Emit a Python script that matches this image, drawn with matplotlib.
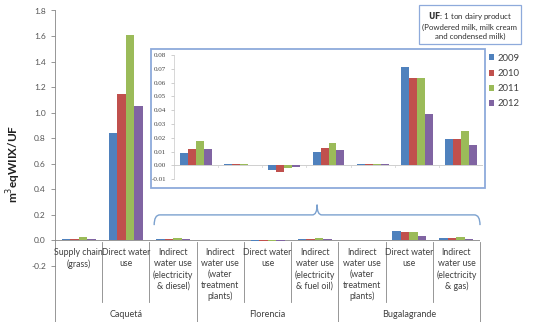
import numpy as np
import matplotlib
matplotlib.use("Agg")
import matplotlib.pyplot as plt
import matplotlib.transforms as mtransforms
from matplotlib.patches import Rectangle, PathPatch
from matplotlib.path import Path

# data
categories = ["Supply chain\n(grass)", "Direct water\nuse",
              "Indirect\nwater use\n(electricity\n& diesel)",
              "Indirect\nwater use\n(water\ntreatment\nplants)",
              "Direct water\nuse",
              "Indirect\nwater use\n(electricity\n& fuel oil)",
              "Indirect\nwater use\n(water\ntreatment\nplants)",
              "Direct water\nuse",
              "Indirect\nwater use\n(electricity\n& gas)"]
groups = ["Caquetá", "Florencia", "Bugalagrande"]
years = ["2009", "2010", "2011", "2012"]
v2009 = [0.012, 0.845, 0.009, 0.001, -0.0035, 0.0095, 0.001, 0.071, 0.019]
v2010 = [0.014, 1.150, 0.012, 0.001, -0.0050, 0.0130, 0.001, 0.063, 0.019]
v2011 = [0.024, 1.610, 0.0175, 0.001, -0.0020, 0.0165, 0.001, 0.0635, 0.025]
v2012 = [0.013, 1.055, 0.012, 0.0005, -0.0010, 0.0110, 0.001, 0.0375, 0.015]
series = [v2009, v2010, v2011, v2012]
colors = ["#4F81BD", "#C0504D", "#9BBB59", "#8064A2"]
inset_from = 2  # inset zooms on categories 2..8

plt.rcParams['font.family'] = ['Lato', 'DejaVu Sans']
fig = plt.figure(figsize=(5.35, 3.22), dpi=100)
W, H = 535, 322

def px(x0, y0, x1, y1):
    # figure-pixel box -> figure fraction rect
    return [x0 / W, 1 - y1 / H, (x1 - x0) / W, (y1 - y0) / H]

axis_col = "#868686"
txt_col = "#404040"
bw = 0.18
n = len(categories)
x = np.arange(n)

# ---- main chart
ax = fig.add_axes(px(55, 10.5, 480, 266))
for k, vals in enumerate(series):
    ax.bar(x + (k - 1.5) * bw, vals, bw, color=colors[k], zorder=2)
ax.set_xlim(-0.5, n - 0.5)
ax.set_ylim(-0.2, 1.8)
ax.set_yticks(np.arange(-0.2, 1.81, 0.2))
ax.set_yticklabels([f"{t:.1f}" for t in np.arange(-0.2, 1.81, 0.2)])
ax.tick_params(axis='y', labelsize=6, colors=axis_col, labelcolor="#555555", length=3, width=0.6)
ax.set_xticks([])
for s in ["top", "right", "bottom"]:
    ax.spines[s].set_visible(False)
ax.spines["left"].set_color(axis_col)
ax.spines["left"].set_linewidth(0.6)
ax.spines["left"].set_bounds(-0.2, 1.8)
ax.axhline(0, color=axis_col, lw=0.6, zorder=1)

tr = mtransforms.blended_transform_factory(ax.transData, ax.transAxes)
# extend the left spine down to the group labels
ax.plot([-0.5, -0.5], [0, -0.22], color=axis_col, lw=0.6, transform=tr, clip_on=False)
for i in range(1, n + 1):
    xb = i - 0.5
    y_end = -0.22 if i % 3 == 0 else -0.14
    ax.plot([xb, xb], [0.0941, y_end], color=axis_col, lw=0.6, transform=tr, clip_on=False)
for i, lab in enumerate(categories):
    ax.text(i, -0.062, lab, ha='center', va='top', fontsize=6.3, color=txt_col,
            linespacing=1.25, clip_on=False)
for g, name in enumerate(groups):
    ax.text(3 * g + 1, -0.19, name, ha='center', va='center', fontsize=6.5,
            color=txt_col, transform=tr, clip_on=False)

fig.text(0.026, 0.49, "m$^3$eqWIIX/UF", rotation=90, ha='center', va='center',
         fontsize=8.5, fontweight='bold', color="#202020")

# ---- brace under the inset
bc = "#7BA1CF"
xa, xbnd, xm = 1.6, 8.5, 5.05
yh, ye, yt = 0.2, 0.16, 0.24
verts = [(xa, ye), (xa, yh), (xa + 0.12, yh),
         (xm - 0.1, yh), (xm, yh), (xm, yt), (xm, yh), (xm + 0.1, yh),
         (xbnd - 0.12, yh), (xbnd, yh), (xbnd, ye)]
codes = [Path.MOVETO, Path.CURVE3, Path.CURVE3,
         Path.LINETO, Path.CURVE3, Path.CURVE3, Path.CURVE3, Path.CURVE3,
         Path.LINETO, Path.CURVE3, Path.CURVE3]
ax.add_patch(PathPatch(Path(verts, codes), transform=tr, fill=False,
                       edgecolor=bc, lw=1.0, clip_on=False))

# ---- inset frame and inset chart
fig.patches.append(Rectangle((151 / W, 1 - 188 / H), (485 - 151) / W, (188 - 49) / H,
                             transform=fig.transFigure, facecolor='white',
                             edgecolor="#8EAADB", lw=1.3, zorder=3))
axi = fig.add_axes(px(174, 55, 483, 179.3))
axi.set_zorder(4)
axi.patch.set_alpha(0)
xi = np.arange(n - inset_from)
for k, vals in enumerate(series):
    axi.bar(xi + (k - 1.5) * bw, vals[inset_from:], bw, color=colors[k],
            label=years[k], zorder=2)
axi.set_xlim(-0.5, len(xi) - 0.5)
axi.set_ylim(-0.01, 0.08)
yt_i = np.arange(-0.01, 0.0801, 0.01)
axi.set_yticks(yt_i)
axi.set_yticklabels([f"{t:.2f}" for t in yt_i], fontfamily='Liberation Serif')
axi.tick_params(axis='y', labelsize=5, colors="#BBBBBB", labelcolor=txt_col, length=2, width=0.5)
axi.set_xticks([])
for s in ["top", "right", "bottom"]:
    axi.spines[s].set_visible(False)
axi.spines["left"].set_color("#C8C8C8")
axi.spines["left"].set_linewidth(0.5)
axi.axhline(0, color="#C8C8C8", lw=0.6, zorder=1)
tri = mtransforms.blended_transform_factory(axi.transData, axi.transAxes)
for i in range(1, len(xi)):
    axi.plot([i - 0.5, i - 0.5], [0.111, 0.095], color="#C8C8C8", lw=0.5,
             transform=tri, clip_on=False)

# legend to the right of the inset
h, l = axi.get_legend_handles_labels()
fig.legend(h, l, loc='upper left', bbox_to_anchor=(485 / W, 1 - 50 / H), frameon=False,
           fontsize=6.8, handlelength=0.6, handleheight=0.6, handletextpad=0.3,
           labelspacing=0.65, borderaxespad=0, labelcolor=txt_col)

# functional unit box
fig.text(470 / W, 1 - 25 / H,
         "$\\bf{UF}$: 1 ton dairy product\n(Powdered milk, milk cream\nand condensed milk)",
         ha='center', va='center', fontsize=5.7, color="#303030", linespacing=1.3,
         bbox=dict(boxstyle='square,pad=0.45', facecolor='white', edgecolor="#8EAADB", lw=0.9))

fig.savefig("out.png", dpi=100)
